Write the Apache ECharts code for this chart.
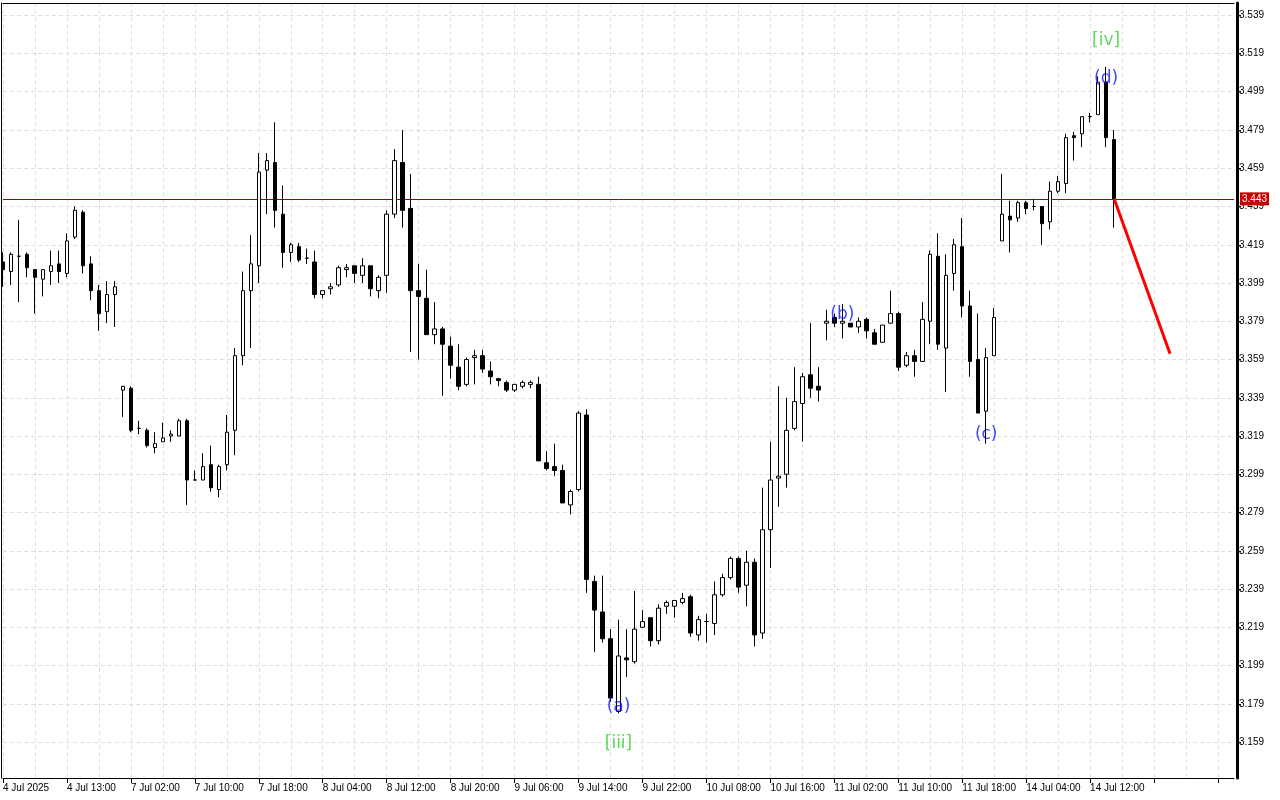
<!DOCTYPE html>
<html><head><meta charset="utf-8">
<script src="https://cdn.jsdelivr.net/npm/echarts@6/dist/echarts.min.js"></script>
<style>html,body{margin:0;padding:0;background:#fff}#c{width:1280px;height:800px}</style>
</head><body><div id="c"></div>
<script>
const opens = [3.410,3.405,3.413,3.414,3.406,3.401,3.405,3.409,3.404,3.423,
3.436,3.409,3.395,3.384,3.393,3.343,3.344,3.323,3.322,3.313,
3.316,3.319,3.319,3.327,3.296,3.296,3.304,3.291,3.304,3.322,
3.361,3.395,3.408,3.458,3.462,3.435,3.415,3.418,3.412,3.410,
3.393,3.396,3.398,3.406,3.408,3.403,3.408,3.395,3.403,3.435,
3.462,3.438,3.395,3.391,3.372,3.375,3.366,3.355,3.346,3.360,
3.361,3.353,3.349,3.347,3.343,3.345,3.346,3.346,3.305,3.303,
3.301,3.283,3.291,3.330,3.243,3.227,3.213,3.175,3.203,3.201,
3.219,3.224,3.212,3.230,3.230,3.232,3.235,3.215,3.222,3.221,
3.236,3.245,3.255,3.241,3.253,3.216,3.270,3.297,3.299,3.323,
3.336,3.351,3.345,3.378,3.381,3.378,3.378,3.376,3.380,3.373,
3.368,3.378,3.383,3.356,3.361,3.358,3.379,3.413,3.365,3.404,
3.418,3.387,3.359,3.332,3.361,3.421,3.434,3.433,3.441,3.439,
3.439,3.431,3.447,3.451,3.476,3.477,3.486,3.487,3.504,3.474];
const highs = [3.415,3.415,3.432,3.415,3.406,3.406,3.416,3.416,3.425,3.439,
3.437,3.413,3.398,3.400,3.400,3.345,3.345,3.327,3.323,3.321,
3.326,3.322,3.328,3.328,3.301,3.310,3.314,3.304,3.330,3.365,
3.405,3.424,3.467,3.467,3.483,3.450,3.420,3.420,3.417,3.416,
3.395,3.399,3.408,3.409,3.408,3.412,3.408,3.403,3.437,3.469,
3.479,3.456,3.409,3.406,3.389,3.376,3.371,3.367,3.360,3.364,
3.364,3.358,3.349,3.348,3.346,3.348,3.348,3.350,3.311,3.315,
3.304,3.291,3.332,3.333,3.246,3.246,3.218,3.223,3.218,3.238,
3.228,3.224,3.231,3.233,3.233,3.237,3.236,3.225,3.226,3.243,
3.247,3.256,3.256,3.259,3.255,3.292,3.316,3.345,3.339,3.355,
3.352,3.378,3.355,3.385,3.383,3.388,3.378,3.381,3.381,3.375,
3.377,3.395,3.384,3.363,3.364,3.389,3.416,3.425,3.414,3.422,
3.433,3.395,3.383,3.365,3.386,3.456,3.442,3.442,3.442,3.443,
3.439,3.452,3.455,3.477,3.478,3.486,3.488,3.507,3.512,3.479];
const lows = [3.397,3.398,3.389,3.402,3.383,3.392,3.398,3.399,3.402,3.422,
3.404,3.390,3.374,3.378,3.376,3.329,3.321,3.320,3.313,3.310,
3.316,3.316,3.319,3.283,3.296,3.296,3.290,3.287,3.301,3.309,
3.356,3.365,3.399,3.435,3.428,3.407,3.410,3.410,3.409,3.391,
3.391,3.393,3.397,3.402,3.399,3.399,3.392,3.391,3.394,3.433,
3.428,3.363,3.359,3.372,3.367,3.340,3.349,3.343,3.345,3.346,
3.352,3.346,3.345,3.342,3.342,3.344,3.344,3.306,3.301,3.298,
3.284,3.278,3.290,3.237,3.206,3.211,3.180,3.174,3.193,3.200,
3.219,3.209,3.210,3.226,3.224,3.231,3.214,3.212,3.211,3.215,
3.235,3.244,3.237,3.230,3.209,3.213,3.250,3.282,3.292,3.322,
3.316,3.339,3.337,3.369,3.376,3.370,3.376,3.373,3.370,3.367,
3.368,3.378,3.353,3.355,3.350,3.358,3.367,3.364,3.342,3.395,
3.381,3.350,3.331,3.315,3.361,3.421,3.415,3.431,3.435,3.437,
3.419,3.427,3.446,3.446,3.463,3.470,3.483,3.487,3.470,3.428];
const closes = [3.406,3.414,3.413,3.407,3.402,3.406,3.408,3.405,3.421,3.437,
3.408,3.395,3.383,3.393,3.397,3.345,3.322,3.323,3.314,3.315,
3.318,3.320,3.327,3.296,3.296,3.303,3.292,3.303,3.321,3.361,
3.395,3.409,3.457,3.463,3.437,3.415,3.419,3.411,3.412,3.393,
3.395,3.397,3.407,3.407,3.404,3.408,3.396,3.402,3.435,3.463,
3.437,3.395,3.392,3.372,3.375,3.367,3.356,3.345,3.359,3.361,
3.354,3.350,3.348,3.343,3.346,3.347,3.347,3.306,3.302,3.301,
3.284,3.290,3.331,3.244,3.228,3.213,3.182,3.204,3.202,3.218,
3.222,3.212,3.229,3.232,3.233,3.234,3.216,3.223,3.222,3.236,
3.245,3.255,3.240,3.253,3.215,3.270,3.296,3.298,3.322,3.337,
3.350,3.344,3.343,3.379,3.378,3.379,3.376,3.379,3.374,3.367,
3.377,3.383,3.355,3.361,3.358,3.380,3.414,3.367,3.403,3.419,
3.387,3.358,3.331,3.360,3.381,3.435,3.432,3.441,3.438,3.439,
3.430,3.447,3.452,3.475,3.475,3.486,3.486,3.504,3.475,3.443];
const tickLabels = ['4 Jul 2025','4 Jul 13:00','7 Jul 02:00','7 Jul 10:00','7 Jul 18:00','8 Jul 04:00',
'8 Jul 12:00','8 Jul 20:00','9 Jul 06:00','9 Jul 14:00','9 Jul 22:00','10 Jul 08:00','10 Jul 16:00',
'11 Jul 02:00','11 Jul 10:00','11 Jul 18:00','14 Jul 04:00','14 Jul 12:00'];
const yTicks = [3.159,3.179,3.199,3.219,3.239,3.259,3.279,3.299,3.319,3.339,3.359,3.379,3.399,
3.419,3.439,3.459,3.479,3.499,3.519,3.539];
const forecastBars = [139, 146];
const forecastPrices = [3.443, 3.362];
const waveTexts = ['[iv]','(d)','(b)','(c)','(a)','[iii]'];
const waveBars = [138, 138, 105, 123, 77, 77];
const wavePrices = [3.5255, 3.506, 3.3825, 3.3195, 3.1775, 3.158];

const TOTAL = 155;
const LABEL_STEP = 8;
const Y_MIN = 3.1402, Y_MAX = 3.5454;
const categories = Array.from({length: TOTAL}, (_, i) => String(i));
const ohlc = opens.map((o, i) => [o, closes[i], lows[i], highs[i]]);
const lastClose = closes[closes.length - 1];
const FONT = 'Liberation Sans';

const chart = echarts.init(document.getElementById('c'), null, {renderer: 'canvas'});
chart.setOption({
  animation: false,
  backgroundColor: '#ffffff',
  grid: {left: 3, right: 46, top: 3, bottom: 22, show: false, containLabel: false, outerBoundsMode: 'none'},
  xAxis: [{
    type: 'category', data: categories, boundaryGap: false,
    axisLine: {show: true, lineStyle: {color: '#000', width: 1}},
    axisTick: {show: true, interval: LABEL_STEP - 1, length: 5, lineStyle: {color: '#000'}},
    axisLabel: {show: true, interval: LABEL_STEP - 1, align: 'left', margin: 5, color: '#000',
      fontSize: 10, fontFamily: FONT,
      formatter: (v, i) => (i % LABEL_STEP === 0 && tickLabels[i / LABEL_STEP]) ? tickLabels[i / LABEL_STEP] : ''},
    splitLine: {show: true, interval: 3, lineStyle: {color: '#dedede', type: [4, 3], width: 1}}
  }, {
    type: 'category', data: categories, boundaryGap: false, position: 'top',
    axisLine: {show: true, lineStyle: {color: '#000', width: 1}},
    axisTick: {show: false}, axisLabel: {show: false}, splitLine: {show: false}
  }],
  yAxis: [{
    type: 'value', position: 'right', min: Y_MIN, max: Y_MAX, scale: true, offset: 3,
    axisLine: {show: true, lineStyle: {color: '#000', width: 3}},
    axisTick: {show: true, customValues: yTicks, length: 4, lineStyle: {color: '#000'}},
    axisLabel: {show: true, customValues: yTicks, margin: 2, color: '#000', fontSize: 10, fontFamily: FONT,
      formatter: v => Number(v).toFixed(3)},
    splitLine: {show: true, lineStyle: {color: '#dedede', type: [4, 3], width: 1}}
  }, {
    type: 'value', position: 'left', min: Y_MIN, max: Y_MAX, scale: true, offset: 2,
    axisLine: {show: true, lineStyle: {color: '#000', width: 1}},
    axisTick: {show: false}, axisLabel: {show: false}, splitLine: {show: false}
  }],
  series: [
    {
      type: 'candlestick', data: ohlc, barWidth: 4, z: 3,
      itemStyle: {color: '#ffffff', color0: '#000000', borderColor: '#000000', borderColor0: '#000000',
                  borderColorDoji: '#000000', borderWidth: 1}
    },
    {
      type: 'line', data: forecastBars.map((b, i) => [b, forecastPrices[i]]),
      symbol: 'none', lineStyle: {color: '#ff0000', width: 3}, z: 5,
      markLine: {
        silent: true, symbol: ['none', 'none'], animation: false, z: 2, precision: 3,
        lineStyle: {color: '#a00000', width: 1, type: 'solid'},
        label: {show: true, position: 'end', formatter: () => lastClose.toFixed(3), color: '#fff',
                backgroundColor: '#c80000', padding: [2, 2, 1, 2], fontSize: 10, fontFamily: FONT, distance: 6},
        data: [{yAxis: lastClose}]
      }
    },
    {
      type: 'scatter', symbolSize: 1, itemStyle: {color: 'transparent'}, z: 6,
      data: waveTexts.map((t, i) => ({name: t, value: [waveBars[i], wavePrices[i]],
        label: {color: t.charAt(0) === '[' ? '#32cd32' : '#1010ff'}})),
      label: {show: true, position: 'inside', formatter: p => p.name, fontSize: 17, fontFamily: 'DejaVu Sans'}
    }
  ]
});
</script></body></html>
